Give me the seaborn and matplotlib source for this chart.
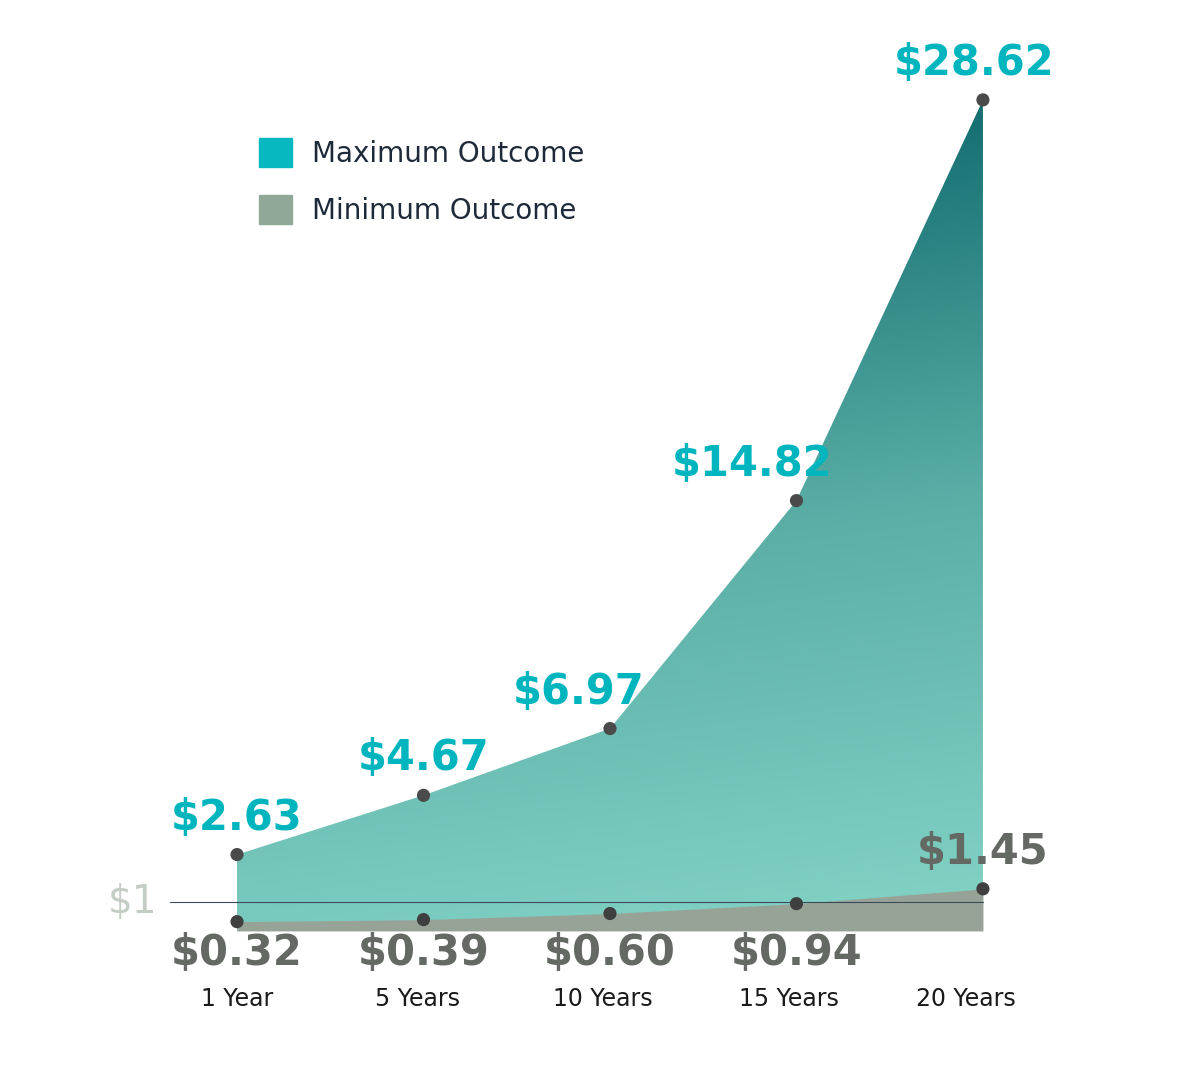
import numpy as np
import matplotlib.pyplot as plt
import seaborn as sns
from matplotlib.colors import LinearSegmentedColormap
from matplotlib.patches import Patch

periods = ['1 Year', '5 Years', '10 Years', '15 Years', '20 Years']
max_vals = [2.63, 4.67, 6.97, 14.82, 28.62]
min_vals = [0.32, 0.39, 0.60, 0.94, 1.45]

TEAL = '#00b5bd'
GREY_TXT = '#646964'
MIN_FILL = '#98a398'

sns.set_style("white")
plt.rcParams['font.family'] = ['Liberation Sans Narrow', 'DejaVu Sans']

fig = plt.figure(figsize=(12, 10.77), dpi=100)
ax = fig.add_axes([0, 0, 1, 1])
x = np.arange(len(periods))
ax.set_xlim(-1.271, 5.164)
ax.set_ylim(-5.03, 32.06)
ax.axis('off')

# gradient area for maximum
poly = ax.fill_between(x, 0, max_vals, color='none', lw=0)
xx, yy = np.meshgrid(np.linspace(0, 1, 200), np.linspace(0, 1, 300))
dark = np.clip(yy * 0.95 + (1 - xx) * 0.12, 0, 1)
cmap = LinearSegmentedColormap.from_list('g', ['#84d4c7', '#5aaea6', '#0c666b'])
img = ax.imshow(dark, cmap=cmap, extent=[0, 4, 0, max(max_vals)], origin='lower',
                aspect='auto', zorder=1)
img.set_clip_path(poly.get_paths()[0], transform=ax.transData)

ax.fill_between(x, 0, min_vals, color=MIN_FILL, lw=0, zorder=2)

ax.plot([-0.36, 4], [1, 1], color='#3a4a5a', lw=0.8, zorder=3)
ax.text(-0.56, 1, '$1', color='#c3cdc3', fontsize=28, ha='center', va='center')

sns.scatterplot(x=x, y=max_vals, ax=ax, color='#4a4a4a', s=90, edgecolor='none', zorder=4)
sns.scatterplot(x=x, y=min_vals, ax=ax, color='#3f3f3f', s=90, edgecolor='none', zorder=4)

max_dx = [0, 0, -0.17, -0.24, -0.05]
for i, v in enumerate(max_vals):
    ax.text(i + max_dx[i], v + 0.55, f'${v:.2f}', color=TEAL, fontsize=30,
            ha='center', va='bottom', fontweight='bold')
for i, v in enumerate(min_vals):
    if i < 4:
        ax.text(i, -0.75, f'${v:.2f}', color=GREY_TXT, fontsize=30,
                ha='center', va='center', fontweight='bold')
    else:
        ax.text(i, v + 0.55, f'${v:.2f}', color=GREY_TXT, fontsize=30,
                ha='center', va='bottom', fontweight='bold')

lab_dx = [0, -0.03, -0.04, -0.04, -0.09]
for i, p in enumerate(periods):
    ax.text(i + lab_dx[i], -2.35, p, color='#1a1a1a', fontsize=17, ha='center', va='center')

handles = [Patch(color='#08b8c0', label='Maximum Outcome'),
           Patch(color='#8fa898', label='Minimum Outcome')]
ax.legend(handles=handles, loc='upper left', bbox_to_anchor=(0.195, 0.895), frameon=False,
          fontsize=20, handlelength=1.2, handleheight=1.2, labelspacing=1.0,
          handletextpad=0.7, labelcolor='#1e2a3a')

fig.savefig('out.png', dpi=100)
